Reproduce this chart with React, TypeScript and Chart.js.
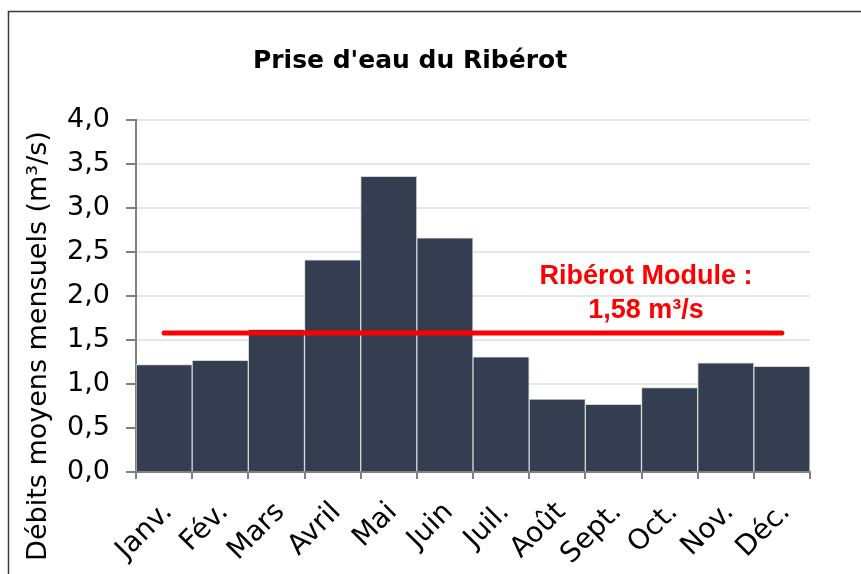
import { useEffect, useRef } from "react";
import { Chart, registerables } from "chart.js";

Chart.register(...registerables);

const months = ["Janv.", "Fév.", "Mars", "Avril", "Mai", "Juin", "Juil.", "Août", "Sept.", "Oct.", "Nov.", "Déc."];
const debits = [1.22, 1.27, 1.62, 2.41, 3.36, 2.66, 1.31, 0.83, 0.77, 0.96, 1.24, 1.2];
const moduleLine = [1.58, 1.58, 1.58, 1.58, 1.58, 1.58, 1.58, 1.58, 1.58, 1.58, 1.58, 1.58];
const yTickValues = [0, 0.5, 1, 1.5, 2, 2.5, 3, 3.5, 4];
const yTickLabels = ["0,0", "0,5", "1,0", "1,5", "2,0", "2,5", "3,0", "3,5", "4,0"];
const chartTitle = "Prise d'eau du Ribérot";
const yTitle = "Débits moyens mensuels (m³/s)";
const annotationLines = ["Ribérot Module :", "1,58 m³/s"];
const annotationIndex = 8.58;
const annotationValues = [2.22, 1.84];

const FONT = '"DejaVu Sans", sans-serif';

const textPlugin = {
  id: "customTexts",
  afterDraw(chart: any) {
    const { ctx } = chart;
    const x = chart.scales.x;
    const y = chart.scales.y;
    ctx.save();
    ctx.strokeStyle = "#3a3a3a";
    ctx.lineWidth = 1.5;
    ctx.strokeRect(8.5, 11.5, 900, 600);

    ctx.fillStyle = "#000";
    ctx.textAlign = "center";
    ctx.textBaseline = "middle";
    ctx.font = `bold 25px ${FONT}`;
    ctx.fillText(chartTitle, 410, 61);

    ctx.save();
    ctx.translate(39, 346);
    ctx.rotate(-Math.PI / 2);
    ctx.font = `27px ${FONT}`;
    ctx.fillText(yTitle, 0, 0);
    ctx.restore();

    ctx.fillStyle = "#ff0000";
    ctx.font = 'bold 27px "Liberation Sans", Arial, sans-serif';
    const ax = x.getPixelForValue(annotationIndex);
    annotationLines.forEach((t, i) => {
      ctx.fillText(t, ax, y.getPixelForValue(annotationValues[i]));
    });
    ctx.restore();
  },
};

export default function App() {
  const ref = useRef<HTMLCanvasElement | null>(null);
  useEffect(() => {
    if (!ref.current) return;
    const chart = new Chart(ref.current, {
      type: "bar",
      data: {
        labels: months,
        datasets: [
          {
            type: "line",
            data: moduleLine,
            borderColor: "#ff0000",
            borderWidth: 5,
            borderCapStyle: "round",
            pointRadius: 0,
            fill: false,
            order: 0,
          } as any,
          {
            type: "bar",
            data: debits,
            backgroundColor: "#343e50",
            borderColor: "#d3d6db",
            borderWidth: 1,
            barPercentage: 1,
            categoryPercentage: 1,
            order: 1,
          },
        ],
      },
      options: {
        animation: false,
        responsive: false,
        layout: { padding: { top: 120, right: 51, bottom: 0, left: 0 } },
        plugins: { legend: { display: false }, title: { display: false }, tooltip: { enabled: false } },
        scales: {
          x: {
            grid: { display: true, drawOnChartArea: false, tickLength: 7, color: "#808080", lineWidth: 2 },
            border: { display: true, color: "#808080", width: 2 },
            ticks: {
              color: "#000",
              font: { family: FONT, size: 28 },
              minRotation: 45,
              maxRotation: 45,
              autoSkip: false,
              padding: 17,
              labelOffset: 4,
            },
            afterFit: (s: any) => {
              s.height = 102;
            },
          },
          y: {
            min: 0,
            max: 4,
            afterBuildTicks: (axis: any) => {
              axis.ticks = yTickValues.map((v) => ({ value: v }));
            },
            grid: { color: "#e6e6e6", lineWidth: 2, tickLength: 10, tickColor: "#808080" },
            border: { display: true, color: "#808080", width: 2 },
            ticks: {
              color: "#000",
              font: { family: FONT, size: 27 },
              padding: 16,
              callback: (_v: any, i: number) => yTickLabels[i],
            },
            afterFit: (s: any) => {
              s.width = 136;
            },
          },
        },
      },
      plugins: [textPlugin],
    });
    return () => chart.destroy();
  }, []);
  return (
    <div style={{ position: "absolute", left: 0, top: 0, width: 861, height: 574, background: "#fff" }}>
      <canvas ref={ref} width={861} height={574} style={{ display: "block" }} />
    </div>
  );
}
